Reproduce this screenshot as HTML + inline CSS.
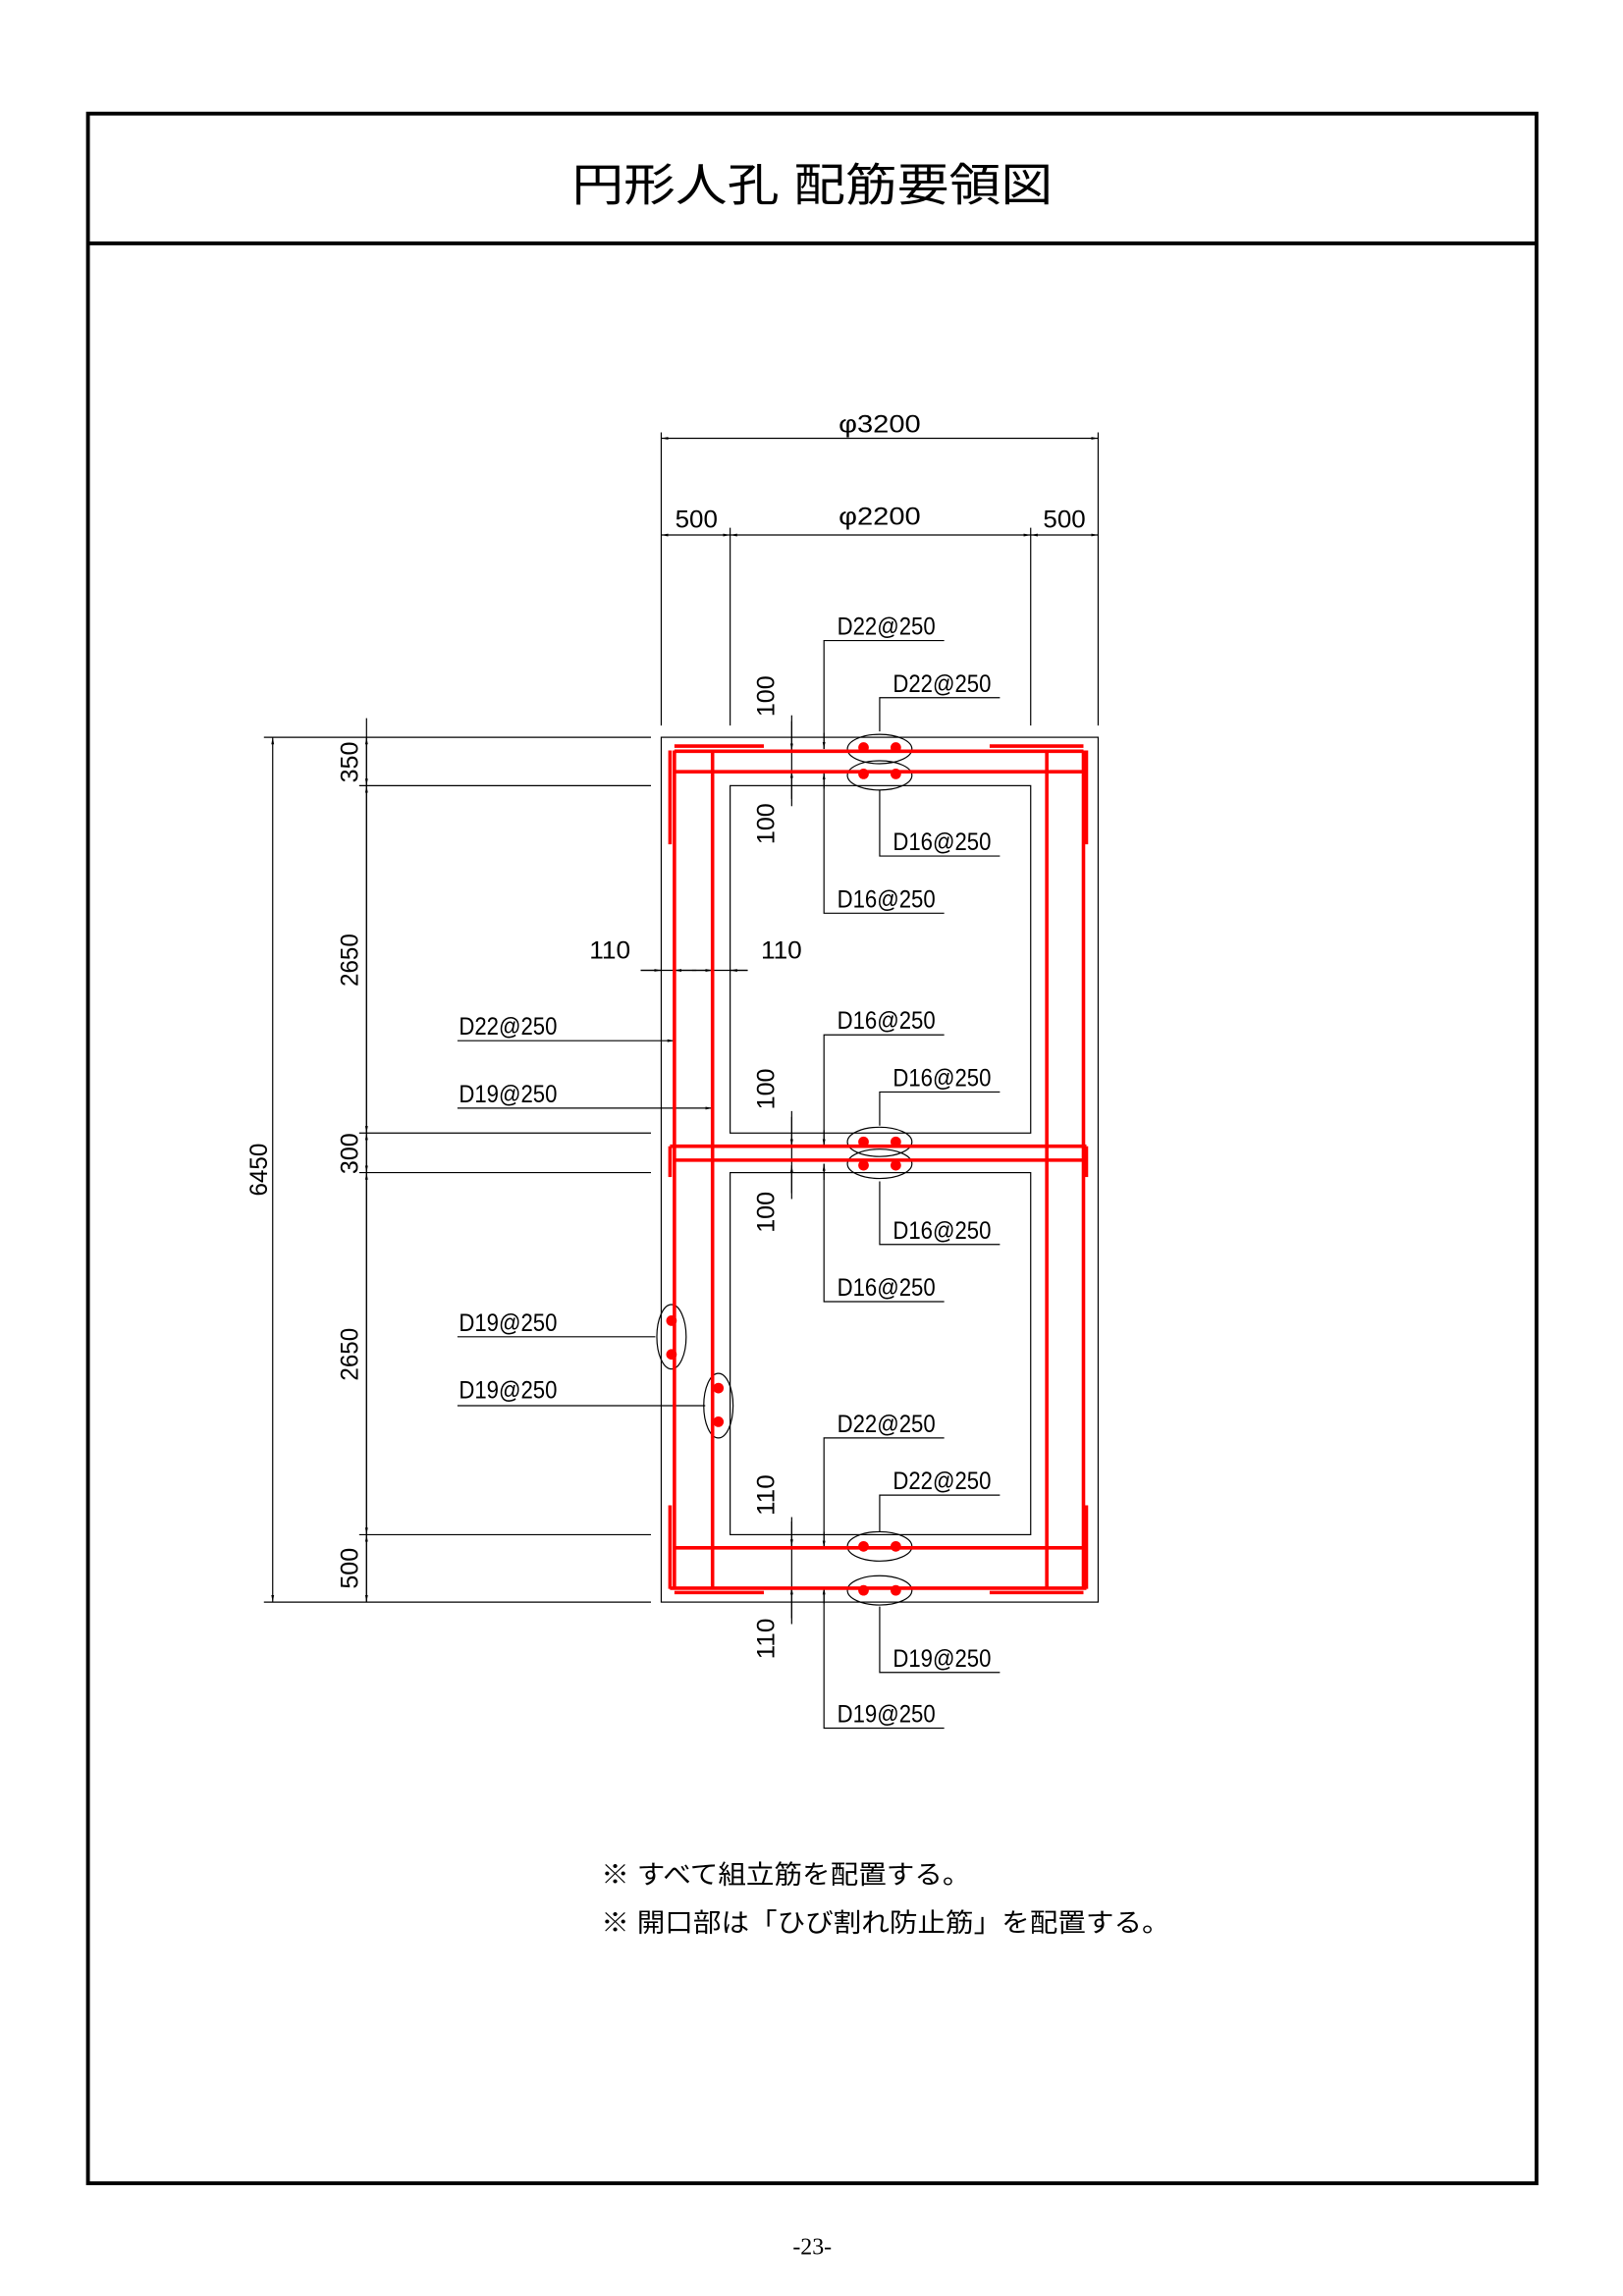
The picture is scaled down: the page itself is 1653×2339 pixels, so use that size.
<!DOCTYPE html>
<html><head><meta charset="utf-8"><style>
html,body{margin:0;padding:0;background:#fff;}
svg{display:block;}
.t{font-family:"Liberation Sans Narrow","Liberation Sans","Noto Sans CJK JP",sans-serif;font-size:17px;fill:#000;}
.j{font-family:"Liberation Sans","Noto Sans CJK JP",sans-serif;fill:#000;}
</style></head><body>
<svg width="1653" height="2339" viewBox="0 0 1107 1566.4" xmlns="http://www.w3.org/2000/svg">
<defs>
<marker id="a" viewBox="0 0 10 10" refX="10" refY="5" markerWidth="6" markerHeight="6" orient="auto-start-reverse"><path d="M0,3 L10,5 L0,7z" fill="#000"/></marker>
</defs>
<rect x="0" y="0" width="1107" height="1566.4" fill="#fff"/>
<rect x="60" y="77.5" width="988" height="1412" fill="none" stroke="#000" stroke-width="2.6"/>
<line x1="60" y1="166" x2="1048" y2="166" stroke="#000" stroke-width="2.6"/>
<text class="j" x="554" y="137" font-size="31" text-anchor="middle" textLength="328" lengthAdjust="spacingAndGlyphs">円形人孔 配筋要領図</text>

<g stroke="#000" stroke-width="0.8" fill="none">
<rect x="451" y="503" width="298" height="590"/>
<rect x="498" y="536" width="205" height="237"/>
<rect x="498" y="800" width="205" height="247"/>
<line x1="451" y1="295" x2="451" y2="495"/><line x1="749" y1="295" x2="749" y2="495"/>
<line x1="498" y1="360" x2="498" y2="495"/><line x1="703" y1="360" x2="703" y2="495"/>
<line x1="451" y1="299" x2="749" y2="299" marker-start="url(#a)" marker-end="url(#a)"/>
<line x1="451" y1="365" x2="498" y2="365" marker-start="url(#a)" marker-end="url(#a)"/>
<line x1="498" y1="365" x2="703" y2="365" marker-start="url(#a)" marker-end="url(#a)"/>
<line x1="703" y1="365" x2="749" y2="365" marker-start="url(#a)" marker-end="url(#a)"/>
<line x1="180" y1="503" x2="444" y2="503"/><line x1="180" y1="1093" x2="444" y2="1093"/>
<line x1="245" y1="536" x2="444" y2="536"/><line x1="245" y1="773" x2="444" y2="773"/>
<line x1="245" y1="800" x2="444" y2="800"/><line x1="245" y1="1047" x2="444" y2="1047"/>
<line x1="186" y1="503" x2="186" y2="1093" marker-start="url(#a)" marker-end="url(#a)"/>
<line x1="250" y1="490" x2="250" y2="1093"/>
<line x1="250" y1="503" x2="250" y2="536" marker-start="url(#a)" marker-end="url(#a)"/>
<line x1="250" y1="536" x2="250" y2="773" marker-start="url(#a)" marker-end="url(#a)"/>
<line x1="250" y1="773" x2="250" y2="800" marker-start="url(#a)" marker-end="url(#a)"/>
<line x1="250" y1="800" x2="250" y2="1047" marker-start="url(#a)" marker-end="url(#a)"/>
<line x1="250" y1="1047" x2="250" y2="1093" marker-start="url(#a)" marker-end="url(#a)"/>
<line x1="437" y1="662" x2="510" y2="662"/>
<line x1="437" y1="662" x2="451" y2="662" marker-end="url(#a)"/>
<line x1="475" y1="662" x2="460" y2="662" marker-end="url(#a)"/>
<line x1="472" y1="662" x2="486" y2="662" marker-end="url(#a)"/>
<line x1="510" y1="662" x2="498" y2="662" marker-end="url(#a)"/>
<line x1="540" y1="488" x2="540" y2="550"/>
<line x1="540" y1="492" x2="540" y2="512" marker-end="url(#a)"/><line x1="540" y1="545" x2="540" y2="526" marker-end="url(#a)"/>
<line x1="540" y1="758" x2="540" y2="818"/>
<line x1="540" y1="762" x2="540" y2="782" marker-end="url(#a)"/><line x1="540" y1="814" x2="540" y2="795" marker-end="url(#a)"/>
<line x1="540" y1="1035" x2="540" y2="1108"/>
<line x1="540" y1="1038" x2="540" y2="1055" marker-end="url(#a)"/><line x1="540" y1="1104" x2="540" y2="1083" marker-end="url(#a)"/>
<polyline points="644,437 562,437 562,511" /><line x1="562" y1="500" x2="562" y2="511" marker-end="url(#a)"/>
<polyline points="682,476 600,476 600,499"/>
<polyline points="682,584 600,584 600,539"/>
<polyline points="644,623 562,623 562,527"/><line x1="562" y1="538" x2="562" y2="527" marker-end="url(#a)"/>
<polyline points="644,706 562,706 562,782"/><line x1="562" y1="771" x2="562" y2="782" marker-end="url(#a)"/>
<polyline points="682,745 600,745 600,768"/>
<polyline points="682,849 600,849 600,806"/>
<polyline points="644,888 562,888 562,794"/><line x1="562" y1="805" x2="562" y2="794" marker-end="url(#a)"/>
<polyline points="644,981 562,981 562,1056"/><line x1="562" y1="1045" x2="562" y2="1056" marker-end="url(#a)"/>
<polyline points="682,1020 600,1020 600,1045"/>
<polyline points="682,1141 600,1141 600,1096"/>
<polyline points="644,1179 562,1179 562,1083"/><line x1="562" y1="1094" x2="562" y2="1083" marker-end="url(#a)"/>
<line x1="312" y1="710" x2="460" y2="710" marker-end="url(#a)"/>
<line x1="312" y1="756" x2="486" y2="756" marker-end="url(#a)"/>
<line x1="312" y1="912" x2="447" y2="912"/>
<line x1="312" y1="959" x2="481" y2="959"/>
<ellipse cx="600" cy="511" rx="22" ry="10"/><ellipse cx="600" cy="529" rx="22" ry="10"/>
<ellipse cx="600" cy="779" rx="22" ry="10"/><ellipse cx="600" cy="794" rx="22" ry="10"/>
<ellipse cx="600" cy="1055" rx="22" ry="10"/><ellipse cx="600" cy="1085" rx="22" ry="10"/>
<ellipse cx="458" cy="912" rx="10" ry="22"/><ellipse cx="490" cy="959" rx="10" ry="22"/>
</g>

<g stroke="#f00" stroke-width="2.4" fill="none">
<line x1="460" y1="512" x2="460" y2="1084"/>
<line x1="486" y1="512" x2="486" y2="1084"/>
<line x1="714" y1="512" x2="714" y2="1084"/>
<line x1="739" y1="512" x2="739" y2="1084"/>
<line x1="460" y1="512.5" x2="739" y2="512.5"/>
<line x1="460" y1="526.5" x2="739" y2="526.5"/>
<line x1="457" y1="782" x2="741" y2="782"/>
<line x1="460" y1="791.5" x2="739" y2="791.5"/>
<line x1="460" y1="1056" x2="739" y2="1056"/>
<line x1="457" y1="1083.5" x2="741" y2="1083.5"/>
<line x1="460" y1="509" x2="521" y2="509"/><line x1="675" y1="509" x2="739" y2="509"/>
<line x1="460" y1="1086.5" x2="521" y2="1086.5"/><line x1="675" y1="1086.5" x2="739" y2="1086.5"/>
<line x1="457" y1="512" x2="457" y2="576"/><line x1="741" y1="512" x2="741" y2="576"/>
<line x1="457" y1="782" x2="457" y2="803"/><line x1="741" y1="782" x2="741" y2="803"/>
<line x1="457" y1="1027" x2="457" y2="1084"/><line x1="741" y1="1027" x2="741" y2="1084"/>
</g>
<g fill="#f00">
<circle cx="589" cy="510" r="3.6"/><circle cx="611" cy="510" r="3.6"/>
<circle cx="589" cy="528" r="3.6"/><circle cx="611" cy="528" r="3.6"/>
<circle cx="589" cy="779" r="3.6"/><circle cx="611" cy="779" r="3.6"/>
<circle cx="589" cy="795" r="3.6"/><circle cx="611" cy="795" r="3.6"/>
<circle cx="589" cy="1055" r="3.6"/><circle cx="611" cy="1055" r="3.6"/>
<circle cx="589" cy="1085" r="3.6"/><circle cx="611" cy="1085" r="3.6"/>
<circle cx="458" cy="901" r="3.6"/><circle cx="458" cy="924" r="3.6"/>
<circle cx="490" cy="947" r="3.6"/><circle cx="490" cy="970" r="3.6"/>
</g>

<g class="t">
<text x="600" y="295" text-anchor="middle" textLength="56" lengthAdjust="spacingAndGlyphs">φ3200</text>
<text x="600" y="358" text-anchor="middle" textLength="56" lengthAdjust="spacingAndGlyphs">φ2200</text>
<text x="475" y="360" text-anchor="middle" textLength="29" lengthAdjust="spacingAndGlyphs">500</text>
<text x="726" y="360" text-anchor="middle" textLength="29" lengthAdjust="spacingAndGlyphs">500</text>
<text x="416" y="654" text-anchor="middle" textLength="28" lengthAdjust="spacingAndGlyphs">110</text>
<text x="533" y="654" text-anchor="middle" textLength="28" lengthAdjust="spacingAndGlyphs">110</text>
<text x="571" y="433" textLength="67" lengthAdjust="spacingAndGlyphs">D22@250</text>
<text x="609" y="472" textLength="67" lengthAdjust="spacingAndGlyphs">D22@250</text>
<text x="609" y="580" textLength="67" lengthAdjust="spacingAndGlyphs">D16@250</text>
<text x="571" y="619" textLength="67" lengthAdjust="spacingAndGlyphs">D16@250</text>
<text x="571" y="702" textLength="67" lengthAdjust="spacingAndGlyphs">D16@250</text>
<text x="609" y="741" textLength="67" lengthAdjust="spacingAndGlyphs">D16@250</text>
<text x="609" y="845" textLength="67" lengthAdjust="spacingAndGlyphs">D16@250</text>
<text x="571" y="884" textLength="67" lengthAdjust="spacingAndGlyphs">D16@250</text>
<text x="571" y="977" textLength="67" lengthAdjust="spacingAndGlyphs">D22@250</text>
<text x="609" y="1016" textLength="67" lengthAdjust="spacingAndGlyphs">D22@250</text>
<text x="609" y="1137" textLength="67" lengthAdjust="spacingAndGlyphs">D19@250</text>
<text x="571" y="1175" textLength="67" lengthAdjust="spacingAndGlyphs">D19@250</text>
<text x="313" y="706" textLength="67" lengthAdjust="spacingAndGlyphs">D22@250</text>
<text x="313" y="752" textLength="67" lengthAdjust="spacingAndGlyphs">D19@250</text>
<text x="313" y="908" textLength="67" lengthAdjust="spacingAndGlyphs">D19@250</text>
<text x="313" y="954" textLength="67" lengthAdjust="spacingAndGlyphs">D19@250</text>
<text transform="translate(528,475) rotate(-90)" text-anchor="middle" textLength="28" lengthAdjust="spacingAndGlyphs">100</text>
<text transform="translate(528,562) rotate(-90)" text-anchor="middle" textLength="28" lengthAdjust="spacingAndGlyphs">100</text>
<text transform="translate(528,743) rotate(-90)" text-anchor="middle" textLength="28" lengthAdjust="spacingAndGlyphs">100</text>
<text transform="translate(528,827) rotate(-90)" text-anchor="middle" textLength="28" lengthAdjust="spacingAndGlyphs">100</text>
<text transform="translate(528,1020) rotate(-90)" text-anchor="middle" textLength="28" lengthAdjust="spacingAndGlyphs">110</text>
<text transform="translate(528,1118) rotate(-90)" text-anchor="middle" textLength="28" lengthAdjust="spacingAndGlyphs">110</text>
<text transform="translate(244,520) rotate(-90)" text-anchor="middle" textLength="28" lengthAdjust="spacingAndGlyphs">350</text>
<text transform="translate(244,655) rotate(-90)" text-anchor="middle" textLength="36" lengthAdjust="spacingAndGlyphs">2650</text>
<text transform="translate(244,787) rotate(-90)" text-anchor="middle" textLength="28" lengthAdjust="spacingAndGlyphs">300</text>
<text transform="translate(244,924) rotate(-90)" text-anchor="middle" textLength="36" lengthAdjust="spacingAndGlyphs">2650</text>
<text transform="translate(244,1070) rotate(-90)" text-anchor="middle" textLength="28" lengthAdjust="spacingAndGlyphs">500</text>
<text transform="translate(182,798) rotate(-90)" text-anchor="middle" textLength="36" lengthAdjust="spacingAndGlyphs">6450</text>
</g>

<text class="j" x="410" y="1285" font-size="18" textLength="252" lengthAdjust="spacingAndGlyphs">※ すべて組立筋を配置する。</text>
<text class="j" x="410" y="1318" font-size="18" textLength="388" lengthAdjust="spacingAndGlyphs">※ 開口部は「ひび割れ防止筋」を配置する。</text>
<text x="554" y="1538" font-family="Liberation Serif, serif" font-size="16" text-anchor="middle">-23-</text>
</svg>
</body></html>
